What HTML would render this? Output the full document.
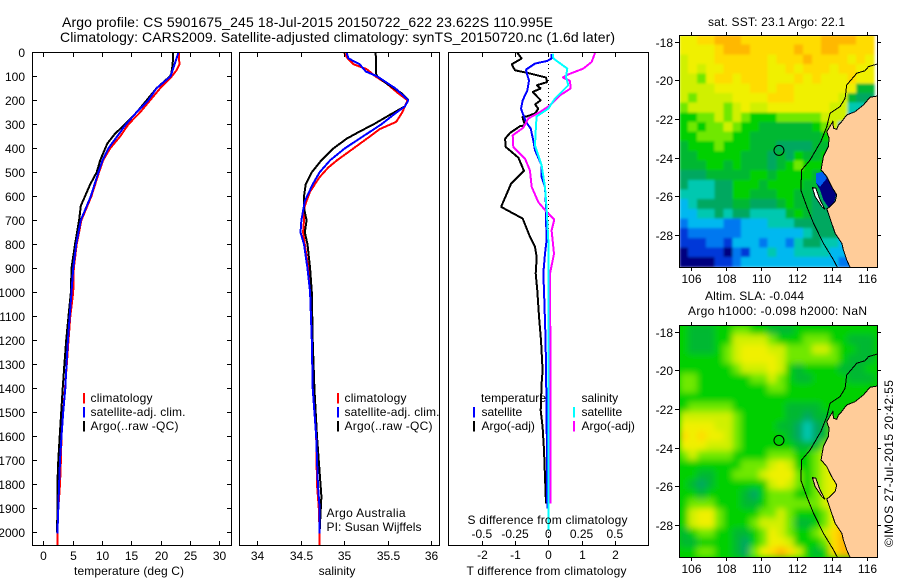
<!DOCTYPE html>
<html lang="en">
<head>
<meta charset="utf-8">
<title>Argo profile chart</title>
<style>
html,body{margin:0;padding:0;background:#fff;width:900px;height:580px;overflow:hidden}
svg{display:block}
text{font-family:"Liberation Sans",sans-serif;font-size:12px;fill:#000}
.t{font-size:14px}
</style>
</head>
<body>
<svg id="chart" xmlns="http://www.w3.org/2000/svg" width="900" height="580" viewBox="0 0 900 580">
<defs>
<filter id="blurSst" x="-5%" y="-5%" width="110%" height="110%"><feGaussianBlur stdDeviation="1.2"/></filter>
<filter id="blurSla" x="-5%" y="-5%" width="110%" height="110%"><feGaussianBlur stdDeviation="3.2"/></filter>
<clipPath id="clipTop"><rect x="680" y="35" width="198" height="232"/></clipPath>
<clipPath id="clipBottom"><rect x="680" y="325" width="198" height="232"/></clipPath>
</defs>
<text class="t" x="62" y="27" textLength="491" lengthAdjust="spacing">Argo profile: CS 5901675_245 18-Jul-2015 20150722_622 23.622S 110.995E</text>
<text class="t" x="60" y="42" textLength="555" lengthAdjust="spacing">Climatology: CARS2009. Satellite-adjusted climatology: synTS_20150720.nc (1.6d later)</text>
<text x="708" y="26" textLength="137" lengthAdjust="spacing">sat. SST: 23.1 Argo: 22.1</text>
<text x="705" y="300" textLength="99" lengthAdjust="spacing">Altim. SLA: -0.044</text>
<text x="688" y="315" textLength="179" lengthAdjust="spacing">Argo h1000: -0.098 h2000: NaN</text>
<text transform="translate(893,547) rotate(-90)" textLength="167" lengthAdjust="spacing">©IMOS 27-Jul-2015 20:42:55</text>
</svg>
<script>
const depthTicks = [0,100,200,300,400,500,600,700,800,900,1000,1100,1200,1300,1400,1500,1600,1700,1800,1900,2000];
const tempTicks = [0,5,10,15,20,25,30];
const salTicks = [34,34.5,35,35.5,36];
const tDiffTicks = [-2,-1,0,1,2];
const sDiffTicks = [-0.5,-0.25,0,0.25,0.5];
const sDiffTickLabels = ['-0.5','-0.25','0','0.25','0.5'];

const tempClimDepth = [0,50,75,100,150,200,250,300,350,400,450,500,600,700,800,900,1000,1100,1200,1300,1400,1500,1600,1700,1800,1900,2000,2055];
const tempClim = [23.1,23.2,22.7,21.9,19.9,18.2,16.5,14.5,13.1,11.4,10.2,9.5,8.2,6.5,5.7,5.2,5.1,4.6,4.3,4.0,3.7,3.4,3.1,3.0,2.85,2.55,2.4,2.4];
const tempSatDepth = [0,100,150,200,250,300,350,400,450,500,600,700,800,900,1000,1100,1200,1300,1400,1500,1600,1700,1800,1900,2005];
const tempSat = [23.05,21.7,19.3,17.9,15.9,14.1,12.6,11.1,10.1,9.4,8.1,6.4,5.6,5.1,4.8,4.5,4.2,3.95,3.75,3.4,3.1,2.85,2.7,2.55,2.4];
const tempArgoDepth = [0,50,90,100,150,200,250,300,340,380,450,500,550,640,700,800,900,1000,1100,1200,1300,1400,1500,1600,1700,1800,1900,2000];
const tempArgo = [22.1,22.05,21.8,21.6,19.3,17.6,15.9,13.9,12.2,10.9,9.7,9.1,8.0,6.4,6.1,5.4,4.8,4.7,4.3,3.9,3.6,3.3,3.05,2.8,2.55,2.4,2.4,2.35];

const salClimDepth = [0,25,50,70,100,130,170,200,250,290,320,350,400,450,480,520,580,640,700,750,800,900,1000,1200,1400,1600,1800,1900,2000,2055];
const salClim = [35.0,35.04,35.11,35.26,35.36,35.49,35.62,35.73,35.67,35.6,35.41,35.3,35.11,34.92,34.82,34.72,34.61,34.55,34.54,34.53,34.55,34.59,34.63,34.64,34.65,34.68,34.69,34.71,34.72,34.72];
const salSatDepth = [0,25,50,80,100,150,200,225,260,300,350,400,450,500,550,620,700,750,800,900,1000,1200,1400,1600,1800,1900,2005];
const salSat = [35.03,35.05,35.18,35.25,35.38,35.59,35.74,35.7,35.57,35.43,35.22,35.01,34.84,34.72,34.64,34.55,34.51,34.5,34.54,34.58,34.61,34.63,34.64,34.68,34.7,34.72,34.72];
const salArgoDepth = [0,25,90,100,130,170,200,225,260,300,330,360,400,450,500,550,600,650,700,750,800,900,1000,1200,1400,1600,1800,1850,2000];
const salArgo = [35.36,35.37,35.37,35.38,35.49,35.66,35.74,35.7,35.53,35.34,35.18,35.03,34.88,34.74,34.63,34.56,34.54,34.54,34.57,34.55,34.58,34.61,34.63,34.64,34.66,34.69,34.73,34.74,34.72];

const tDiffArgoDepth = [3,26,50,75,85,105,124,137,151,165,200,217,235,255,267,269,304,308,336,360,394,439,494,547,644,693,769,811,853,922,992,1100,1200,1325,1380,1492,1561,1658,1769,1881];
const tDiffArgo = [-0.93,-0.8,-1.1,-1.0,-0.65,-0.07,-0.03,-0.35,-0.23,-0.47,-0.23,-0.4,-0.3,-0.4,-0.65,-0.78,-0.7,-0.85,-1.15,-1.3,-1.28,-0.9,-0.73,-1.12,-1.42,-0.77,-0.55,-0.4,-0.35,-0.38,-0.33,-0.28,-0.22,-0.17,-0.2,-0.23,-0.17,-0.13,-0.1,-0.07];
const tDiffSatDepth = [8,26,36,47,72,96,117,158,200,235,262,290,318,367,408,471,519,561,644,686,783,839,922,992,1200,1500,1900];
const tDiffSat = [0.1,0.1,-0.03,-0.4,-0.67,-0.63,-0.58,-0.63,-0.77,-0.82,-0.75,-0.67,-0.53,-0.45,-0.4,-0.2,-0.2,-0.1,-0.07,-0.07,-0.05,-0.1,-0.15,-0.13,-0.08,-0.05,-0.03];
const sDiffSatDepth = [6,26,68,103,137,193,235,267,311,388,471,561,658,783,992,1500,1992];
const sDiffSat = [0.033,0.038,0.143,0.133,0.15,0.05,0,-0.088,-0.093,-0.1,-0.05,-0.025,-0.012,0,0,0,0];
const sDiffArgoDepth = [3,40,68,92,105,119,151,179,221,249,276,314,346,394,443,492,561,624,665,697,742,839,922,992,1400,1881];
const sDiffArgo = [0.351,0.326,0.263,0.15,0.108,0.163,0.168,0.088,0.013,-0.063,-0.15,-0.188,-0.268,-0.263,-0.175,-0.138,-0.125,-0.075,-0.013,0.045,0.025,0.043,0.013,0.013,0.018,0.018];

const lonTicks = [106,108,110,112,114,116];
const latTicks = [-18,-20,-22,-24,-26,-28];
const cellColors = ['#00007f','#0038d8','#0078f0','#00b8f0','#00c8b0','#00a860','#00b830','#00d000','#70e800','#d0f000','#f0f000','#ffdc00','#ffb800'];

const sstGrid = [
[10,10,11,11,12,12,12,11,11,11,11,11,11,11,11,11,12,12,12,12,11,11],
[10,10,10,10,11,12,12,12,11,11,11,11,11,12,11,11,12,12,11,11,11,11],
[9,10,10,10,11,11,11,11,11,11,10,11,11,11,12,11,11,11,11,10,11,10],
[9,10,9,10,10,11,11,11,11,11,10,10,11,10,11,11,11,10,11,11,10,10],
[9,9,8,10,11,11,10,11,11,11,10,10,10,11,10,11,10,10,10,11,10,10],
[9,9,9,9,10,10,10,10,11,11,10,11,11,10,10,10,10,10,10,10,6,6],
[9,8,9,9,9,9,10,10,10,10,11,11,11,10,10,10,10,10,9,6,5,5],
[8,9,9,9,9,8,9,10,9,9,10,10,10,10,10,10,10,9,9,4,4],
[7,7,8,8,9,8,9,8,7,7,7,8,8,8,8,8,9,9,9,3],
[7,8,7,8,8,9,8,7,7,6,6,6,6,6,6,7,8,9,2],
[7,7,8,8,8,8,7,7,6,6,6,6,6,6,6,6,7,8],
[6,7,7,7,8,7,7,7,6,6,6,5,5,5,5,6,6,7],
[6,6,7,7,7,7,7,6,6,6,5,6,5,7,6,6,7,7],
[6,6,6,7,7,6,7,6,6,6,5,6,7,8,7,7,7,6],
[5,5,5,6,6,6,6,6,7,7,6,7,7,7,7,6,6,6],
[5,4,4,4,5,5,7,7,7,6,7,7,7,7,6,6,5,5,5],
[4,4,4,4,5,5,7,7,6,6,6,7,7,6,6,5,5,5,5],
[3,4,5,5,5,5,6,6,5,5,5,6,7,6,6,5,5,5,5],
[3,3,4,4,5,4,5,5,4,4,4,4,6,7,6,5,5,5,5],
[2,3,3,3,3,2,2,3,3,3,4,4,4,5,5,5,5,5,4],
[1,2,2,2,2,2,2,3,3,3,3,3,3,3,4,5,5,5,3,3],
[1,1,1,2,2,1,3,3,3,2,3,3,2,4,5,5,4,4,3,3],
[0,1,1,1,1,0,2,1,3,3,4,3,3,4,4,4,4,3,3,2,2],
[0,0,0,0,1,1,2,3,3,3,3,3,3,3,3,3,3,3,2,2,2]
];

const slaGrid = [
[7,6,6,6,7,7,8,8,7,7,6,6,6,7,7,7,7,7,7,7,7,7],
[7,6,6,6,7,7,9,9,9,9,8,7,7,7,8,8,8,7,7,6,6,6],
[7,6,6,6,7,8,9,10,10,10,9,9,8,8,8,9,9,8,7,7,6,6],
[7,7,7,7,7,8,9,10,10,10,10,9,8,8,8,8,8,8,7,6,6,6],
[7,7,7,7,7,7,8,9,9,9,10,9,7,6,7,7,7,7,6,6,6,7],
[8,8,7,7,7,7,7,7,8,8,9,8,7,6,6,7,7,7,7,6,6,6],
[8,8,7,7,7,7,7,7,7,7,8,8,7,7,7,7,7,7,7,7,7],
[7,7,7,7,7,7,7,7,7,7,7,7,7,7,7,7,7,7,7,7],
[7,8,8,8,8,8,7,7,7,7,7,7,6,6,6,6,7,7,7],
[9,9,9,9,9,9,8,7,7,7,7,7,6,6,5,6,6,7],
[10,10,10,10,9,9,8,7,7,7,7,6,6,5,4,5,6,8],
[11,10,11,10,10,9,8,7,7,7,7,7,6,5,4,5,6,8],
[10,10,10,9,9,9,8,7,7,7,7,7,7,6,6,6,8,9],
[8,9,8,8,8,8,7,7,7,7,8,8,8,7,7,8,9,10],
[7,7,7,7,7,7,7,8,8,8,9,10,9,7,7,8,9,10],
[7,7,6,6,7,7,8,8,8,9,10,10,10,8,7,8,9,10,10],
[7,6,5,6,7,7,7,7,7,7,9,10,9,8,7,8,9,10,11],
[7,7,6,7,7,7,7,6,5,7,8,8,8,7,7,8,9,10,11],
[7,8,8,8,7,7,7,6,6,7,8,8,8,8,8,8,9,11,11],
[7,9,10,10,8,7,7,7,7,8,8,9,8,7,7,7,8,10,11,12],
[7,9,10,10,8,7,7,7,8,9,9,9,8,6,6,7,8,10,12,12],
[6,7,8,8,7,7,6,6,7,8,10,9,8,7,7,8,9,11,12,12],
[6,6,7,7,7,7,6,5,7,8,10,10,9,7,7,7,8,11,12,12,12],
[7,7,8,8,7,7,6,5,8,10,11,12,11,9,7,6,7,11,12,12,12]
];

const coastLon = [116.59,116.15,115.78,115.3,114.83,114.55,114.36,114.27,114.08,114.04,113.7,113.83,113.79,113.51,113.38,113.7,113.98,114.27,114.17,113.89,113.7,113.98,114.17,114.55,114.64,114.83,115.02,116.6];
const coastLat = [-20.81,-20.87,-21.27,-21.62,-21.79,-22.13,-22.31,-22.53,-22.48,-22.13,-22.65,-23.0,-23.43,-23.94,-24.63,-24.98,-25.5,-25.93,-26.27,-26.53,-26.65,-27.39,-27.91,-28.43,-28.77,-29.29,-29.67,-29.67];
const isobathLon = [116.59,116.06,115.87,115.4,114.83,114.74,114.45,113.89,113.7,113.36,112.76,112.28,112.23,112.57,112.95,113.51,114.08,114.3];
const isobathLat = [-19.15,-19.29,-19.5,-19.63,-20.24,-20.93,-21.36,-21.7,-22.39,-23.17,-24.12,-24.63,-25.67,-26.53,-27.39,-28.43,-29.29,-29.67];
const bayLon = [113.1,113.51,113.98,114.23,114.11,113.79,113.51,113.32,113.1];
const bayLat = [-24.81,-24.72,-25.5,-25.93,-26.32,-26.56,-26.18,-25.67,-25.32];
const bayUpperLon = [113.1,113.51,113.7,113.32,113.1];
const bayUpperLat = [-24.81,-24.72,-25.07,-25.5,-25.32];
const islandLon = [112.89,113.08,113.32,113.6,113.42,113.04];
const islandLat = [-25.55,-25.58,-26.18,-26.67,-26.53,-26.01];
const profileLon = 110.995;
const profileLat = -23.622;

const svg = document.getElementById('chart');
const NS = 'http://www.w3.org/2000/svg';

function make(tag, attrs, parent) {
  const el = document.createElementNS(NS, tag);
  for (const k in attrs) el.setAttribute(k, attrs[k]);
  (parent || svg).appendChild(el);
  return el;
}
function label(name, str, x, y, anchor, parent) {
  const el = make('text', {x: x, y: y, 'text-anchor': anchor || 'start'}, parent);
  el.textContent = str;
  
  
  return el;
}
function line(name, x1, y1, x2, y2, width, color, parent) {
  const el = make('line', {x1: x1, y1: y1, x2: x2, y2: y2, stroke: color || '#000', 'stroke-width': width || 1, 'shape-rendering': 'crispEdges'}, parent);
  
  
  return el;
}
function series(name, xs, depths, xScale, color, width) {
  const pts = xs.map((v, i) => xScale(v).toFixed(1) + ',' + yDepth(depths[i]).toFixed(1)).join(' ');
  const el = make('polyline', {points: pts, fill: 'none', stroke: color, 'stroke-width': width, 'shape-rendering': 'crispEdges', 'stroke-linejoin': 'bevel'});
  
  
  return el;
}
function frame(name, x, y, w, h) {
  const el = make('rect', {x: x + 0.5, y: y + 0.5, width: w, height: h, fill: 'none', stroke: '#000', 'stroke-width': 1, 'shape-rendering': 'crispEdges'});
  
  
  return el;
}

const yDepth = d => 52.3 + 0.24 * d;
const xTemp = v => 43.3 + 5.867 * v;
const xSal = v => 257 + 87 * (v - 34);
const xTD = v => 548.3 + 33.25 * v;
const xSD = v => 548.3 + 133 * v;

const panelTop = 52, panelBottom = 545;

/* temperature panel */
series('temperature-climatology-line', tempClim, tempClimDepth, xTemp, '#ff0000', 2);
series('temperature-argo-line', tempArgo, tempArgoDepth, xTemp, '#000000', 2);
series('temperature-satellite-line', tempSat, tempSatDepth, xTemp, '#0000ff', 2);
frame('temperature-panel-frame', 32, panelTop, 199, panelBottom - panelTop);
depthTicks.forEach(d => {
  const y = Math.round(yDepth(d)) + 0.5;
  line('depth-tick-left', 32, y, 37, y);
  line('depth-tick-right', 227, y, 231, y);
  label('depth-tick-label', String(d), 25, y + 4.5, 'end');
});
tempTicks.forEach(v => {
  const x = Math.round(xTemp(v)) + 0.5;
  line('temperature-tick-top', x, panelTop, x, panelTop + 5);
  line('temperature-tick-bottom', x, panelBottom - 4, x, panelBottom);
  label('temperature-tick-label', String(v), x, 560, 'middle');
});
const tempTitle = label('temperature-axis-title', 'temperature (deg C)', 74, 575);
tempTitle.setAttribute('textLength', '110');

/* salinity panel */
series('salinity-climatology-line', salClim, salClimDepth, xSal, '#ff0000', 2);
series('salinity-argo-line', salArgo, salArgoDepth, xSal, '#000000', 2);
series('salinity-satellite-line', salSat, salSatDepth, xSal, '#0000ff', 2);
frame('salinity-panel-frame', 239, panelTop, 200, panelBottom - panelTop);
salTicks.forEach(v => {
  const x = Math.round(xSal(v)) + 0.5;
  line('salinity-tick-top', x, panelTop, x, panelTop + 5);
  line('salinity-tick-bottom', x, panelBottom - 4, x, panelBottom);
  label('salinity-tick-label', String(v), x, 560, 'middle');
});
label('salinity-axis-title', 'salinity', 337, 575, 'middle');
const pi1 = label('argo-australia-label', 'Argo Australia', 326.5, 517);
pi1.setAttribute('textLength', '79');
const pi2 = label('principal-investigator-label', 'PI: Susan Wijffels', 326.5, 531);
pi2.setAttribute('textLength', '95');

/* difference panel */
const zeroLine = line('zero-difference-line', 548.5, panelTop, 548.5, panelBottom, 1);
zeroLine.setAttribute('stroke-dasharray', '1 3');
series('t-difference-argo-line', tDiffArgo, tDiffArgoDepth, xTD, '#000000', 2);
series('t-difference-satellite-line', tDiffSat, tDiffSatDepth, xTD, '#0000ff', 2);
series('s-difference-argo-line', sDiffArgo, sDiffArgoDepth, xSD, '#ff00ff', 2);
series('s-difference-satellite-line', sDiffSat, sDiffSatDepth, xSD, '#00ffff', 2);
frame('difference-panel-frame', 448, panelTop, 200, panelBottom - panelTop);
tDiffTicks.forEach(v => {
  const x = Math.round(xTD(v)) + 0.5;
  line('t-difference-tick-top', x, panelTop, x, panelTop + 5);
  line('t-difference-tick-bottom', x, panelBottom - 4, x, panelBottom);
  label('t-difference-tick-label', String(v), x, 559, 'middle');
});
sDiffTicks.forEach((v, i) => {
  label('s-difference-tick-label', sDiffTickLabels[i], xSD(v), 538, 'middle');
});
const sTitle = label('s-difference-axis-title', 'S difference from climatology', 467.5, 524);
sTitle.setAttribute('textLength', '160');
const tTitle = label('t-difference-axis-title', 'T difference from climatology', 466.5, 575);
tTitle.setAttribute('textLength', '160');

/* legends */
function legendBar(name, x, y, color) {
  const el = make('rect', {x: x, y: y, width: 2, height: 10.5, fill: color, 'shape-rendering': 'crispEdges'});
  
  
}
[[83, 90.5], [337, 344.5]].forEach(pos => {
  legendBar('legend-swatch-climatology', pos[0], 393, '#ff0000');
  legendBar('legend-swatch-satellite', pos[0], 407, '#0000ff');
  legendBar('legend-swatch-argo', pos[0], 421, '#000000');
  const a = label('legend-climatology', 'climatology', pos[1], 402);
  a.setAttribute('textLength', '62');
  const b = label('legend-satellite-adj', 'satellite-adj. clim.', pos[1], 416);
  b.setAttribute('textLength', '95');
  const c = label('legend-argo-raw', 'Argo(..raw -QC)', pos[1], 430);
  c.setAttribute('textLength', '88');
});
const lt = label('legend-temperature-heading', 'temperature', 481, 402);
lt.setAttribute('textLength', '65');
label('legend-temperature-satellite', 'satellite', 481.5, 416);
label('legend-temperature-argo', 'Argo(-adj)', 481.5, 430);
label('legend-salinity-heading', 'salinity', 581.5, 402);
label('legend-salinity-satellite', 'satellite', 581.5, 416);
label('legend-salinity-argo', 'Argo(-adj)', 581.5, 430);
legendBar('legend-swatch-t-satellite', 473, 407, '#0000ff');
legendBar('legend-swatch-t-argo', 473, 421, '#000000');
legendBar('legend-swatch-s-satellite', 573, 407, '#00ffff');
legendBar('legend-swatch-s-argo', 573, 421, '#ff00ff');

/* maps */
const xLon = lon => 690.7 + 17.67 * (lon - 106);
function drawMap(prefix, grid, topY, clipId, filterId, baseColor) {
  const yLat = lat => topY + 6.7 + 19.33 * (-18 - lat);
  const pointsOf = (lons, lats) => lons.map((v, i) => xLon(v).toFixed(1) + ',' + yLat(lats[i]).toFixed(1)).join(' ');
  const outer = make('g', {'clip-path': 'url(#' + clipId + ')'});
  
  
  const base = make('rect', {x: 680, y: topY, width: 198, height: 232, fill: baseColor}, outer);
  
  
  const cells = make('g', {filter: 'url(#' + filterId + ')'}, outer);
  
  
  grid.forEach((row, r) => {
    row.forEach((v, c) => {
      const lonL = 105.36 + 0.5 * c;
      const latT = -17.65 - 0.5 * r;
      const cell = make('rect', {
        x: xLon(lonL), y: yLat(latT),
        width: 17.67 * 0.5 + 0.6, height: 19.33 * 0.5 + 0.6,
        fill: cellColors[v], 'shape-rendering': 'crispEdges'
      }, cells);
      
      
    });
  });
  if (prefix === 'sst') {
    const bay = make('polygon', {points: pointsOf(bayLon, bayLat), fill: '#00007f', 'shape-rendering': 'crispEdges'}, outer);
    
    
    const bayUpper = make('polygon', {points: pointsOf(bayUpperLon, bayUpperLat), fill: '#0060f0', 'shape-rendering': 'crispEdges'}, outer);
    
    
  }
  const land = make('polygon', {points: pointsOf(coastLon, coastLat) + ' 900,' + yLat(-20.8).toFixed(1), fill: '#ffcc99', stroke: '#000', 'stroke-width': 1, 'shape-rendering': 'crispEdges'}, outer);
  
  
  const island = make('polygon', {points: pointsOf(islandLon, islandLat), fill: prefix === 'sst' ? '#ffffff' : '#ffcc99', stroke: '#000', 'stroke-width': 1, 'shape-rendering': 'crispEdges'}, outer);
  
  
  const iso = make('polyline', {points: pointsOf(isobathLon, isobathLat), fill: 'none', stroke: '#000', 'stroke-width': 1, 'shape-rendering': 'crispEdges'}, outer);
  
  
  const marker = make('circle', {cx: xLon(profileLon), cy: yLat(profileLat), r: 5, fill: 'none', stroke: '#000', 'stroke-width': 1}, outer);
  
  
  frame(prefix + '-map-frame', 679, topY, 198, 232);
  lonTicks.forEach(lon => {
    const x = Math.round(xLon(lon)) + 0.5;
    line(prefix + '-lon-tick-top', x, topY - 3, x, topY);
    line(prefix + '-lon-tick-bottom', x, topY + 232, x, topY + 236);
    label(prefix + '-lon-tick-label', String(lon), x, topY + 248, 'middle');
  });
  latTicks.forEach(lat => {
    const y = Math.round(yLat(lat)) + 0.5;
    line(prefix + '-lat-tick-left', 675, y, 679, y);
    line(prefix + '-lat-tick-right', 877, y, 881, y);
    label(prefix + '-lat-tick-label', String(lat), 673, y + 4.5, 'end');
  });
}
drawMap('sst', sstGrid, 35, 'clipTop', 'blurSst', '#ffffff');
drawMap('sla', slaGrid, 325, 'clipBottom', 'blurSla', '#00d000');
</script>
</body>
</html>
